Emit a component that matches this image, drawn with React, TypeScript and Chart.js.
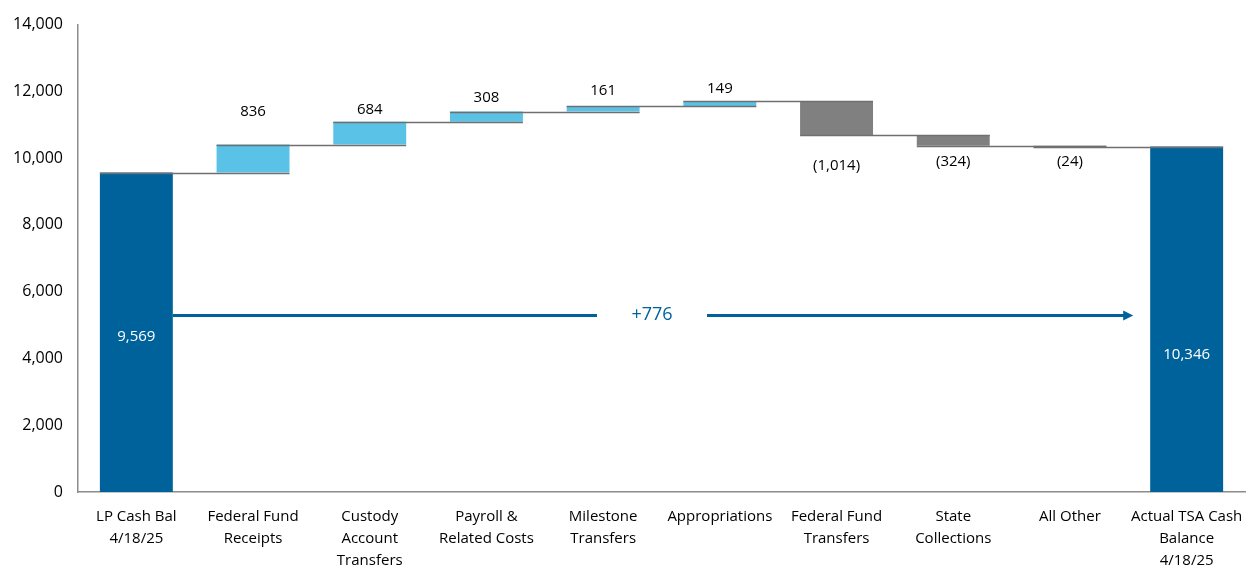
import React, { useEffect, useRef } from "react";
import { Chart, registerables } from "chart.js";

Chart.register(...registerables);

// ---------- data ----------
const categories: string[][] = [
  ["LP Cash Bal", "4/18/25"],
  ["Federal Fund", "Receipts"],
  ["Custody", "Account", "Transfers"],
  ["Payroll &", "Related Costs"],
  ["Milestone", "Transfers"],
  ["Appropriations"],
  ["Federal Fund", "Transfers"],
  ["State", "Collections"],
  ["All Other"],
  ["Actual TSA Cash", "Balance", "4/18/25"],
];
const startBalance = 9569;
const changes = [836, 684, 308, 161, 149, -1014, -324, -24];
const endBalance = 10346;
const netChangeLabel = "+776";
const yMin = 0;
const yMax = 14000;
const yStep = 2000;

// ---------- style ----------
const FONT = "'Open Sans', sans-serif";
const DARK_BLUE = "#00629b";
const LIGHT_BLUE = "#5bc2e7";
const GRAY = "#808080";
const CONNECTOR = "#6f6f6f";
const labelGap = [33, 12, 14, 15, 12, 31, 16, 15];
const insideLabelFrac = [0.486, 0.397];
const arrowLevel = 5300;

const fmt = (v: number) => {
  const s = Math.abs(v).toLocaleString("en-US");
  return v < 0 ? `(${s})` : s;
};

// build floating ranges
const ranges: [number, number][] = [];
const levels: number[] = [];
let run = startBalance;
ranges.push([0, startBalance]);
levels.push(run);
for (const c of changes) {
  const next = run + c;
  ranges.push([Math.min(run, next), Math.max(run, next)]);
  run = next;
  levels.push(run);
}
ranges.push([0, endBalance]);
const colors = [
  DARK_BLUE,
  ...changes.map((c) => (c >= 0 ? LIGHT_BLUE : GRAY)),
  DARK_BLUE,
];

const overlay = {
  id: "waterfallOverlay",
  afterDatasetsDraw(chart: any) {
    const ctx = chart.ctx;
    const meta = chart.getDatasetMeta(0);
    const ys = chart.scales.y;
    const els = meta.data;
    ctx.save();
    // connectors
    ctx.strokeStyle = CONNECTOR;
    ctx.lineWidth = 1.5;
    for (let i = 0; i < els.length - 1; i++) {
      const a = els[i];
      const b = els[i + 1];
      const y = Math.round(ys.getPixelForValue(levels[i])) + 0.5;
      ctx.beginPath();
      ctx.moveTo(a.x - a.width / 2, y);
      ctx.lineTo(b.x + b.width / 2, y);
      ctx.stroke();
    }
    // change labels
    ctx.font = `15px ${FONT}`;
    ctx.fillStyle = "#000";
    ctx.textAlign = "center";
    ctx.textBaseline = "middle";
    changes.forEach((c, k) => {
      const el = els[k + 1];
      const r = ranges[k + 1];
      if (c >= 0) {
        const y = ys.getPixelForValue(r[1]) - labelGap[k];
        ctx.fillText(fmt(c), el.x, y);
      } else {
        const y = ys.getPixelForValue(r[0]) + labelGap[k];
        ctx.fillText(fmt(c), el.x, y);
      }
    });
    // inside labels
    ctx.fillStyle = "#ffffff";
    const first = els[0];
    const last = els[els.length - 1];
    ctx.fillText(
      fmt(startBalance),
      first.x,
      ys.getPixelForValue(startBalance * insideLabelFrac[0])
    );
    ctx.fillText(
      fmt(endBalance),
      last.x,
      ys.getPixelForValue(endBalance * insideLabelFrac[1])
    );
    // arrow
    const ay = Math.round(ys.getPixelForValue(arrowLevel)) + 0.5;
    const x0 = first.x + first.width / 2;
    const x1 = last.x - last.width / 2 - 19;
    const mid = (x0 + x1) / 2;
    const gap = 55;
    ctx.strokeStyle = DARK_BLUE;
    ctx.lineWidth = 3;
    ctx.beginPath();
    ctx.moveTo(x0, ay);
    ctx.lineTo(mid - gap, ay);
    ctx.moveTo(mid + gap, ay);
    ctx.lineTo(x1 - 6, ay);
    ctx.stroke();
    ctx.fillStyle = DARK_BLUE;
    ctx.beginPath();
    ctx.moveTo(x1 + 2, ay);
    ctx.lineTo(x1 - 8, ay - 5);
    ctx.lineTo(x1 - 8, ay + 5);
    ctx.closePath();
    ctx.fill();
    ctx.font = `18px ${FONT}`;
    ctx.fillText(netChangeLabel, mid, ay - 1);
    ctx.restore();
  },
};

export default function App() {
  const ref = useRef<HTMLCanvasElement | null>(null);
  useEffect(() => {
    document.body.style.margin = "0";
    if (!ref.current) return;
    const chart = new Chart(ref.current, {
      type: "bar",
      data: {
        labels: categories,
        datasets: [
          {
            data: ranges as any,
            backgroundColor: colors,
            borderWidth: 0,
            categoryPercentage: 1,
            barPercentage: 0.625,
          },
        ],
      },
      options: {
        animation: false,
        responsive: false,
        maintainAspectRatio: false,
        layout: { padding: { top: 20, right: 4, left: 0, bottom: 0 } },
        plugins: {
          legend: { display: false },
          tooltip: { enabled: false },
        },
        scales: {
          x: {
            grid: { display: false, drawTicks: false },
            border: { display: true, color: "#8c8c8c", width: 1.5 },
            ticks: {
              color: "#000",
              font: { family: FONT, size: 15, lineHeight: 1.45 },
              padding: 14,
              maxRotation: 0,
              autoSkip: false,
            },
            afterFit: (s: any) => {
              s.height = 75;
              s.paddingLeft = 0;
              s.paddingRight = 0;
            },
          },
          y: {
            min: yMin,
            max: yMax,
            grid: { display: false, drawTicks: false },
            border: { display: true, color: "#8c8c8c", width: 1.5 },
            ticks: {
              stepSize: yStep,
              color: "#000",
              font: { family: FONT, size: 16 },
              padding: 15,
              callback: (v: any) => Number(v).toLocaleString("en-US"),
            },
            afterFit: (s: any) => {
              s.width = 78;
            },
          },
        },
      },
      plugins: [overlay],
    });
    return () => chart.destroy();
  }, []);
  return (
    <div style={{ position: "absolute", left: 0, top: 0, width: 1249, height: 567, background: "#fff" }}>
      <canvas ref={ref} width={1249} height={567} style={{ width: 1249, height: 567 }} />
    </div>
  );
}
